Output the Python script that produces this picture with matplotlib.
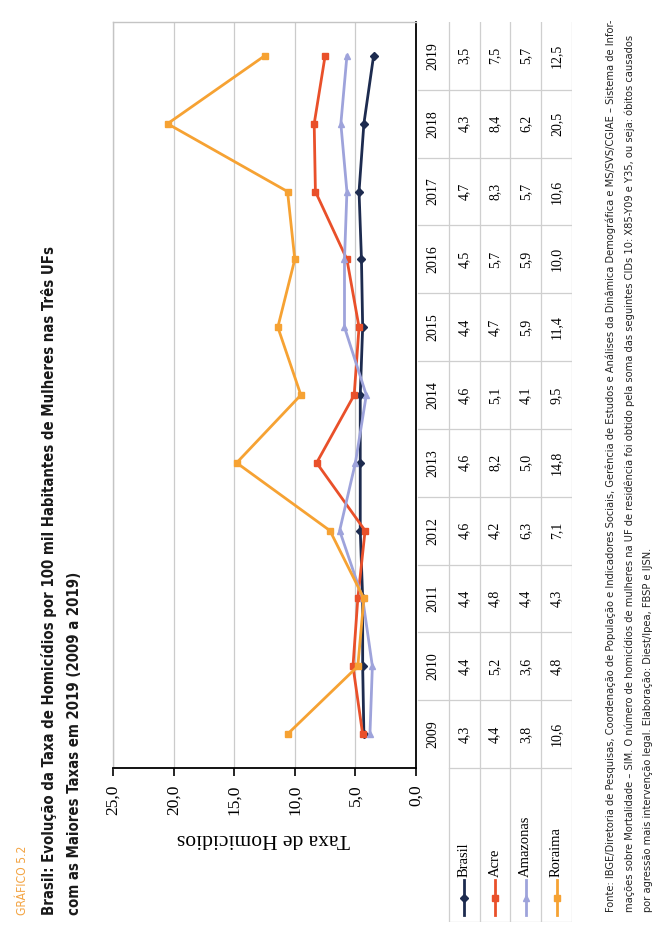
import matplotlib
matplotlib.use('Agg')
import matplotlib.pyplot as plt
from matplotlib import font_manager
from matplotlib.font_manager import FontProperties

# dados: taxa de homicidios de mulheres por 100 mil habitantes
anos = [2009, 2010, 2011, 2012, 2013, 2014, 2015, 2016, 2017, 2018, 2019]
brasil = [4.3, 4.4, 4.4, 4.6, 4.6, 4.6, 4.4, 4.5, 4.7, 4.3, 3.5]
acre = [4.4, 5.2, 4.8, 4.2, 8.2, 5.1, 4.7, 5.7, 8.3, 8.4, 7.5]
amazonas = [3.8, 3.6, 4.4, 6.3, 5.0, 4.1, 5.9, 5.9, 5.7, 6.2, 5.7]
roraima = [10.6, 4.8, 4.3, 7.1, 14.8, 9.5, 11.4, 10.0, 10.6, 20.5, 12.5]

nomes = ['Brasil', 'Acre', 'Amazonas', 'Roraima']
series = [brasil, acre, amazonas, roraima]
cores = ['#1d2b4f', '#e9502a', '#9ea3db', '#f6a233']
marcadores = ['D', 's', '^', 's']

ticks_valor = [0, 5, 10, 15, 20, 25]

titulo_num = 'GRÁFICO 5.2'
titulo = ['Brasil: Evolução da Taxa de Homicídios por 100 mil Habitantes de Mulheres nas Três UFs',
          'com as Maiores Taxas em 2019 (2009 a 2019)']
fonte = ['Fonte: IBGE/Diretoria de Pesquisas, Coordenação de População e Indicadores Sociais, Gerência de Estudos e Análises da Dinâmica Demográfica e MS/SVS/CGIAE – Sistema de Infor-',
         'mações sobre Mortalidade – SIM. O número de homicídios de mulheres na UF de residência foi obtido pela soma das seguintes CIDs 10: X85-Y09 e Y35, ou seja: óbitos causados',
         'por agressão mais intervenção legal. Elaboração: Diest/Ipea, FBSP e IJSN.']

SERIF = 'Liberation Serif'


def fonte_estreita(negrito):
    # procura uma sans condensada instalada; senao usa Liberation Sans
    peso_ok = (lambda w: w in (600, 700, 'bold')) if negrito else (lambda w: w in (400, 'normal', 'regular'))
    for f in font_manager.fontManager.ttflist:
        nome = f.name
        if 'Serif' in nome or 'Mono' in nome:
            continue
        estreita = ('Narrow' in nome or 'Condensed' in nome
                    or f.stretch in ('condensed', 'semi-condensed'))
        if estreita and f.style == 'normal' and peso_ok(f.weight):
            return FontProperties(fname=f.fname)
    return FontProperties(family='Liberation Sans',
                          weight='bold' if negrito else 'normal')


SANS = fonte_estreita(False)
SANS_B = fonte_estreita(True)

W, H = 653, 931
fig = plt.figure(figsize=(W / 100, H / 100), dpi=100)
fig.patch.set_facecolor('white')


def fx(px):
    return px / W


def fy(py):
    return 1 - py / H


def virgula(v):
    return f'{v:.1f}'.replace('.', ',')


# grafico principal (pagina girada: valores na horizontal, anos na vertical)
ax = fig.add_axes([fx(113), fy(768), fx(416) - fx(113), fy(22) - fy(768)])
ax.set_xlim(25, 0)
ax.set_ylim(-0.5, len(anos) - 0.5)
idx = list(range(len(anos)))
for nome, vals, cor, mk in zip(nomes, series, cores, marcadores):
    ax.plot(vals, idx, color=cor, lw=2.0, marker=mk, ms=4, zorder=3)

ax.set_xticks(ticks_valor)
ax.set_xticklabels([virgula(t) for t in ticks_valor], rotation=90,
                   fontsize=12.5, family=SERIF)
ax.set_yticks([])
ax.tick_params(axis='x', direction='out', length=6, width=1.2, pad=6)
ax.grid(axis='x', color='#cbcbcb', lw=0.9)
ax.set_axisbelow(True)
for lado in ['top', 'left']:
    ax.spines[lado].set_color('#c4c4c4')
    ax.spines[lado].set_linewidth(1.0)
for lado in ['right', 'bottom']:
    ax.spines[lado].set_color('black')
    ax.spines[lado].set_linewidth(1.3)

fig.text(fx(263), fy(838), 'Taxa de Homicidios', rotation=180, ha='center',
         va='center', fontsize=15.5, family=SERIF)

# tabela de dados com legenda
tb = fig.add_axes([fx(416), fy(922), fx(572) - fx(416), fy(22) - fy(922)])
tb.set_xlim(-0.06, 5.0)
tb.set_ylim(-2.77, len(anos) - 0.5)
tb.axis('off')
linha = '#cfcfcf'
for i, ano in enumerate(anos):
    tb.text(0.5, i, str(ano), rotation=90, ha='center', va='center',
            fontsize=10, family=SERIF)
    for r, vals in enumerate(series):
        tb.text(1.5 + r, i, virgula(vals[i]), rotation=90, ha='center',
                va='center', fontsize=10, family=SERIF)
for i in range(len(anos) - 1):
    tb.plot([0, 5], [i + 0.5, i + 0.5], color=linha, lw=0.9)
tb.plot([1, 5], [-0.5, -0.5], color=linha, lw=0.9)
tb.plot([1, 5], [-2.77, -2.77], color=linha, lw=0.9)
for r in range(1, 6):
    tb.plot([r, r], [-2.77, len(anos) - 0.5], color=linha, lw=0.9)

for r, (nome, cor, mk) in enumerate(zip(nomes, cores, marcadores)):
    x = 1.5 + r
    tb.plot([x, x], [-2.15, -2.67], color=cor, lw=2.0)
    tb.plot([x], [-2.41], color=cor, marker=mk, ms=4)
    tb.text(x, -2.11, nome, rotation=90, ha='center', va='bottom',
            fontsize=10.5, family=SERIF)

# titulo
t_num = fig.text(fx(22), fy(915), titulo_num, rotation=90, ha='center',
                 va='bottom', fontproperties=SANS, fontsize=10, color='#f3a443')
t1 = fig.text(fx(49), fy(915), titulo[0], rotation=90, ha='center', va='bottom',
              fontproperties=SANS_B, fontsize=12, color='#1a1a1a')
t2 = fig.text(fx(75), fy(915), titulo[1], rotation=90, ha='center', va='bottom',
              fontproperties=SANS_B, fontsize=12, color='#1a1a1a')

# fonte
notas = []
for xp, txt in zip([611, 630, 648], fonte):
    notas.append(fig.text(fx(xp), fy(912), txt, rotation=90, ha='center',
                          va='bottom', fontproperties=SANS, fontsize=9,
                          color='#222222'))


def ajusta(texto, comprimento_px):
    # escala o corpo da fonte para o texto ocupar o comprimento dado
    r = fig.canvas.get_renderer()
    alt = texto.get_window_extent(r).height
    return texto.get_fontsize() * comprimento_px / alt


fig.canvas.draw()
t_num.set_fontsize(ajusta(t_num, 70))
tam_tit = ajusta(t1, 668)
t1.set_fontsize(tam_tit)
t2.set_fontsize(tam_tit)
tam_nota = ajusta(notas[0], 893)
for t in notas:
    t.set_fontsize(tam_nota)

fig.savefig('out.png', dpi=100, facecolor='white')
